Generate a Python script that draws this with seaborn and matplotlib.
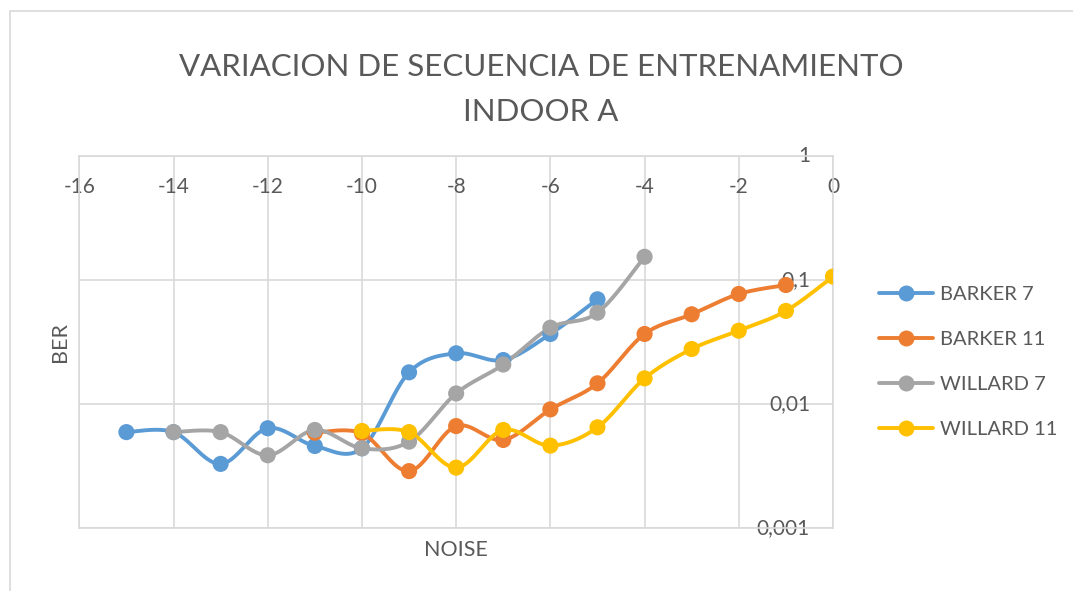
import numpy as np
import pandas as pd
import matplotlib
matplotlib.use("Agg")
import matplotlib.pyplot as plt
from matplotlib.lines import Line2D
from matplotlib.ticker import NullLocator, FixedLocator
import seaborn as sns

# ---- data ----
series_names = ["BARKER 7", "BARKER 11", "WILLARD 7", "WILLARD 11"]
x_barker7 = [-15, -14, -13, -12, -11, -10, -9, -8, -7, -6, -5]
barker7 = [0.0059, 0.0059, 0.00327, 0.00634, 0.00456, 0.00437, 0.0179, 0.0255, 0.0225, 0.0365, 0.0695]
x_barker11 = [-11, -10, -9, -8, -7, -6, -5, -4, -3, -2, -1]
barker11 = [0.00584, 0.00577, 0.00286, 0.0066, 0.0051, 0.0090, 0.0146, 0.0365, 0.0526, 0.0767, 0.0906]
x_willard7 = [-14, -13, -12, -11, -10, -9, -8, -7, -6, -5, -4]
willard7 = [0.0059, 0.0059, 0.00384, 0.00614, 0.00437, 0.00494, 0.0121, 0.0207, 0.041, 0.0542, 0.153]
x_willard11 = [-10, -9, -8, -7, -6, -5, -4, -3, -2, -1, 0]
willard11 = [0.00603, 0.0059, 0.00305, 0.00614, 0.00459, 0.00645, 0.0160, 0.0276, 0.0388, 0.056, 0.106]

x_ticks = [-16, -14, -12, -10, -8, -6, -4, -2, 0]
y_ticks = [0.001, 0.01, 0.1, 1]
y_tick_labels = ["0,001", "0,01", "0,1", "1"]
title_lines = ["VARIACION DE SECUENCIA DE ENTRENAMIENTO", "INDOOR A"]
x_label = "NOISE"
y_label = "BER"

colors = ["#5B9BD5", "#ED7D31", "#A5A5A5", "#FFC000"]
grid_c = "#D9D9D9"
text_c = "#595959"


def smooth_curve(xs, ys, n=40):
    """Excel-like smoothed line: cubic Bezier through points (in x / log10 y)."""
    P = np.column_stack([np.asarray(xs, float), np.log10(np.asarray(ys, float))])
    Pe = np.vstack([P[0], P, P[-1]])
    t = np.linspace(0, 1, n)[:, None]
    segs = []
    for i in range(len(P) - 1):
        p0, p1, p2, p3 = Pe[i], Pe[i + 1], Pe[i + 2], Pe[i + 3]
        c1 = p1 + (p2 - p0) / 6.0
        c2 = p2 - (p3 - p1) / 6.0
        B = (1 - t) ** 3 * p1 + 3 * (1 - t) ** 2 * t * c1 + 3 * (1 - t) * t ** 2 * c2 + t ** 3 * p2
        segs.append(B if i == 0 else B[1:])
    S = np.vstack(segs)
    return S[:, 0], 10 ** S[:, 1]


sns.set_theme(style="white")
plt.rcParams["font.family"] = ["Lato", "DejaVu Sans"]

W, H = 1073, 591
fig = plt.figure(figsize=(W / 100, H / 100), dpi=100)
ax = fig.add_axes([79.3 / W, (H - 527.7) / H, (833 - 79.3) / W, (527.7 - 155.7) / H])

all_x = [x_barker7, x_barker11, x_willard7, x_willard11]
all_y = [barker7, barker11, willard7, willard11]

for name, xs, ys, c in zip(series_names, all_x, all_y, colors):
    sx, sy = smooth_curve(xs, ys)
    sns.lineplot(x=sx, y=sy, ax=ax, color=c, linewidth=2.8, sort=False,
                 estimator=None, legend=False, solid_capstyle="round")
    sns.scatterplot(x=xs, y=ys, ax=ax, color=c, s=135, edgecolor="none",
                    legend=False, zorder=3)

ax.set_yscale("log")
ax.set_xlim(-16, 0)
ax.set_ylim(0.001, 1)
ax.yaxis.set_major_locator(FixedLocator(y_ticks))
ax.yaxis.set_minor_locator(NullLocator())
ax.set_yticks(y_ticks)
ax.set_yticklabels(y_tick_labels, ha="right", va="center")
ax.set_xticks(x_ticks)
ax.set_xticklabels([str(v) for v in x_ticks], va="center")

ax.yaxis.tick_right()
ax.xaxis.tick_top()
ax.tick_params(axis="y", length=0, pad=-16.5, labelsize=15, labelcolor=text_c)
ax.tick_params(axis="x", length=0, pad=-22.5, labelsize=15, labelcolor=text_c)
for lbl in ax.get_yticklabels():
    lbl.set_ha("right")
for lbl in ax.get_xticklabels():
    lbl.set_va("center")

ax.grid(True, which="major", color=grid_c, linewidth=1.2)
for sp in ax.spines.values():
    sp.set_color(grid_c)
    sp.set_linewidth(1.2)
ax.set_xlabel("")
ax.set_ylabel("")

fig.text(456 / W, 1 - 550 / H, x_label, ha="center", va="center", fontsize=15.5, color=text_c)
fig.text(60 / W, 1 - 342 / H, y_label, ha="center", va="center", rotation=90, fontsize=15.5, color=text_c)
fig.text(541 / W, 1 - 66.7 / H, title_lines[0], ha="center", va="center", fontsize=22.5, color=text_c)
fig.text(541 / W, 1 - 112 / H, title_lines[1], ha="center", va="center", fontsize=22.5, color=text_c)

# chart area border (left & top visible)
fig.add_artist(Line2D([9.5 / W, 9.5 / W], [0, 1 - 11 / H], transform=fig.transFigure, color=grid_c, lw=1.2))
fig.add_artist(Line2D([9.5 / W, 1], [1 - 11 / H, 1 - 11 / H], transform=fig.transFigure, color=grid_c, lw=1.2))

handles = [Line2D([0], [0], color=c, lw=2.8, marker="o", markersize=11.5, markeredgewidth=0)
           for c in colors]
leg = fig.legend(handles, series_names, loc="center left",
                 bbox_to_anchor=(879 / W, 1 - 362 / H), frameon=False,
                 fontsize=14.5, handlelength=2.7, handletextpad=0.35,
                 labelspacing=1.4, borderpad=0, borderaxespad=0)
for t in leg.get_texts():
    t.set_color(text_c)

fig.savefig("out.png", dpi=100)
